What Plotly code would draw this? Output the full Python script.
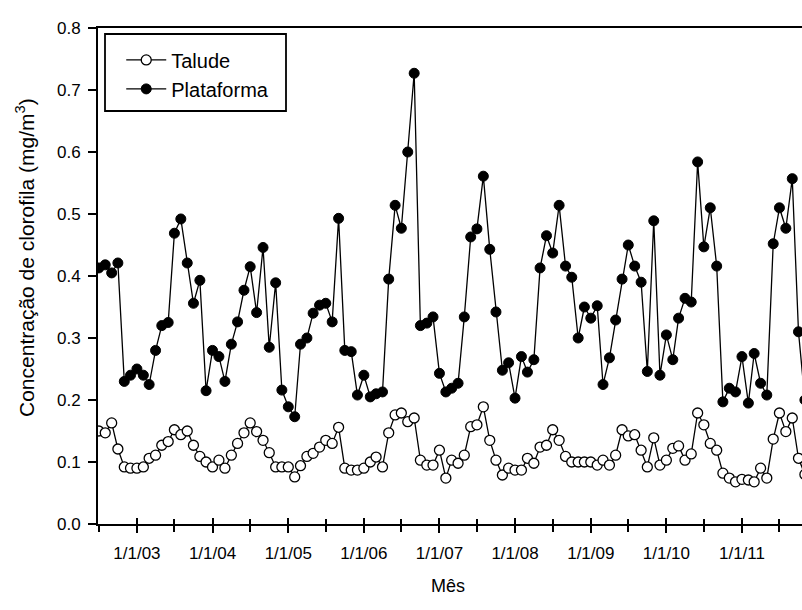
import plotly.graph_objects as go
import pandas as pd

# Monthly series, July 2002 -> November 2011
months = pd.date_range("2002-07-01", periods=113, freq="MS")

plataforma = [
    # 2002 Jul-Dec
    0.413, 0.418, 0.405, 0.421, 0.230, 0.240,
    # 2003
    0.250, 0.240, 0.225, 0.280, 0.320, 0.325, 0.469, 0.492, 0.421, 0.356, 0.393, 0.215,
    # 2004
    0.280, 0.270, 0.230, 0.290, 0.326, 0.377, 0.415, 0.341, 0.446, 0.285, 0.389, 0.216,
    # 2005
    0.189, 0.173, 0.290, 0.300, 0.340, 0.353, 0.356, 0.326, 0.493, 0.280, 0.278, 0.208,
    # 2006
    0.240, 0.205, 0.210, 0.213, 0.395, 0.514, 0.477, 0.600, 0.727, 0.320, 0.324, 0.334,
    # 2007
    0.243, 0.213, 0.219, 0.227, 0.334, 0.463, 0.476, 0.561, 0.443, 0.342, 0.248, 0.260,
    # 2008
    0.203, 0.270, 0.245, 0.265, 0.413, 0.465, 0.437, 0.514, 0.416, 0.398, 0.300, 0.350,
    # 2009
    0.332, 0.352, 0.225, 0.268, 0.329, 0.395, 0.450, 0.416, 0.390, 0.246, 0.489, 0.240,
    # 2010
    0.305, 0.265, 0.332, 0.364, 0.358, 0.584, 0.447, 0.510, 0.416, 0.197, 0.219, 0.213,
    # 2011 Jan-Nov
    0.270, 0.195, 0.275, 0.227, 0.208, 0.452, 0.510, 0.477, 0.557, 0.310, 0.200,
]

talude = [
    # 2002 Jul-Dec
    0.150, 0.147, 0.163, 0.121, 0.092, 0.090,
    # 2003
    0.090, 0.092, 0.106, 0.111, 0.127, 0.133, 0.152, 0.144, 0.150, 0.127, 0.109, 0.100,
    # 2004
    0.092, 0.103, 0.090, 0.111, 0.130, 0.147, 0.163, 0.149, 0.135, 0.115, 0.092, 0.092,
    # 2005
    0.092, 0.076, 0.094, 0.109, 0.114, 0.124, 0.135, 0.130, 0.156, 0.090, 0.087, 0.087,
    # 2006
    0.090, 0.100, 0.108, 0.092, 0.147, 0.176, 0.179, 0.165, 0.171, 0.103, 0.095, 0.095,
    # 2007
    0.119, 0.074, 0.103, 0.098, 0.111, 0.157, 0.160, 0.189, 0.135, 0.103, 0.079, 0.090,
    # 2008
    0.087, 0.087, 0.106, 0.098, 0.124, 0.127, 0.152, 0.135, 0.109, 0.100, 0.100, 0.100,
    # 2009
    0.100, 0.095, 0.103, 0.095, 0.111, 0.152, 0.142, 0.144, 0.119, 0.092, 0.139, 0.095,
    # 2010
    0.103, 0.122, 0.126, 0.103, 0.113, 0.179, 0.160, 0.130, 0.119, 0.082, 0.074, 0.068,
    # 2011 Jan-Nov
    0.072, 0.071, 0.068, 0.090, 0.074, 0.137, 0.179, 0.149, 0.171, 0.106, 0.080,
]

y_ticks = [0.0, 0.1, 0.2, 0.3, 0.4, 0.5, 0.6, 0.7, 0.8]

FONT = "Liberation Sans, Arial, sans-serif"

fig = go.Figure()
fig.add_trace(go.Scatter(
    x=months, y=talude, name="Talude", mode="lines+markers",
    line=dict(color="black", width=1.3),
    marker=dict(symbol="circle", size=10, color="white",
                line=dict(color="black", width=1.3)),
))
# second series drawn against the overlay axis (same range) so its
# inner tick marks are rendered, giving ticks that cross the axis line
fig.add_trace(go.Scatter(
    x=months, y=plataforma, name="Plataforma", mode="lines+markers",
    xaxis="x2",
    line=dict(color="black", width=1.3),
    marker=dict(symbol="circle", size=10, color="black",
                line=dict(color="black", width=1)),
))

xrange = ["2002-06-27", "2011-10-18"]

fig.update_layout(
    width=802, height=610,
    margin=dict(l=98, r=0, t=28, b=86),
    paper_bgcolor="white", plot_bgcolor="white",
    font=dict(family=FONT, size=18, color="black"),
    showlegend=True,
    legend=dict(
        x=0.033, y=0.975, xanchor="left", yanchor="top",
        bgcolor="rgba(0,0,0,0)", borderwidth=0,
        font=dict(family=FONT, size=20, color="black"),
        tracegroupgap=0, itemwidth=40,
    ),
    xaxis=dict(
        type="date", range=xrange,
        showgrid=False, zeroline=False,
        showline=True, linecolor="black", linewidth=2, mirror=True,
        ticks="outside", ticklen=7, tickwidth=1.5, tickcolor="black",
        tick0="2003-01-01", dtick="M12", tickformat="%-m/%-d/%y",
        ticklabelstandoff=6,
        minor=dict(ticks="outside", ticklen=6, tickwidth=1.5, tickcolor="black",
                   dtick="M6", tick0="2003-01-01", showgrid=False),
        tickfont=dict(family=FONT, size=17, color="black"),
    ),
    xaxis2=dict(
        type="date", range=xrange, overlaying="x", matches="x",
        showgrid=False, zeroline=False, showline=False,
        showticklabels=False,
        ticks="inside", ticklen=6, tickwidth=1.5, tickcolor="black",
        tick0="2003-01-01", dtick="M12",
        minor=dict(ticks="inside", ticklen=5, tickwidth=1.5, tickcolor="black",
                   dtick="M6", tick0="2003-01-01", showgrid=False),
        side="bottom", anchor="y",
    ),
    yaxis=dict(
        range=[0, 0.8], tickvals=y_ticks, tickformat=".1f",
        showgrid=False, zeroline=False,
        showline=True, linecolor="black", linewidth=2, mirror=False,
        ticks="outside", ticklen=8, tickwidth=1.5, tickcolor="black",
        ticklabelstandoff=4,
        tickfont=dict(family=FONT, size=17, color="black"),
    ),
)

# legend frame
fig.add_shape(type="rect", xref="paper", yref="paper",
              x0=(105 - 98) / 704, x1=(286 - 98) / 704,
              y0=(524 - 111) / 496, y1=(524 - 34) / 496,
              line=dict(color="black", width=1.8), fillcolor="rgba(0,0,0,0)",
              layer="above")

# axis titles
fig.add_annotation(
    text="Concentração de clorofila (mg/m<sup>3</sup>)",
    xref="paper", yref="paper",
    x=(25 - 98) / 704, y=(524 - 258) / 496,
    textangle=-90, showarrow=False, xanchor="center", yanchor="middle",
    font=dict(family=FONT, size=21, color="black"),
)
fig.add_annotation(
    text="Mês", xref="paper", yref="paper",
    x=(448 - 98) / 704, y=(524 - 586) / 496,
    showarrow=False, xanchor="center", yanchor="middle",
    font=dict(family=FONT, size=18, color="black"),
)

fig.write_html("out.html")
